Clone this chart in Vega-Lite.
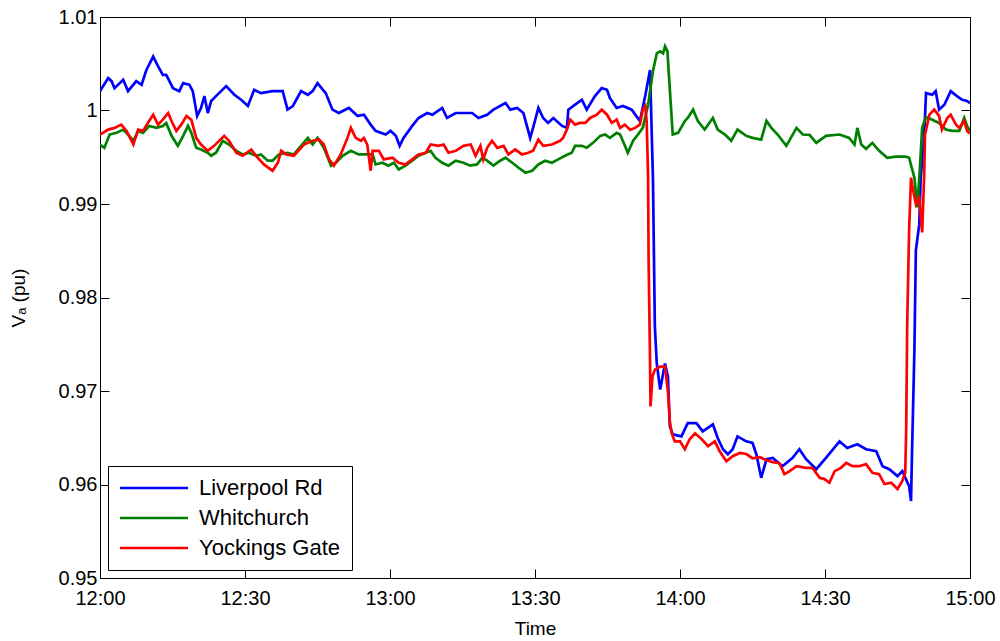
{
  "$schema": "https://vega.github.io/schema/vega-lite/v6.json",
  "width": 870,
  "height": 561,
  "autosize": "none",
  "padding": {"left": 100, "top": 17, "right": 30, "bottom": 63},
  "background": "white",
  "config": {
    "font": "Liberation Sans",
    "view": {"stroke": "black", "strokeWidth": 1},
    "axis": {
      "grid": false,
      "domainColor": "black",
      "domainWidth": 1,
      "tickColor": "black",
      "tickWidth": 1,
      "labelColor": "black",
      "titleColor": "black",
      "labelFont": "Liberation Sans",
      "titleFont": "Liberation Sans",
      "labelFontSize": 20,
      "titleFontSize": 19,
      "titleFontWeight": "normal",
      "labelFlush": false,
      "labelOverlap": false,
      "labelBound": false
    }
  },
  "data": {
    "values": [
      {"s":"Liverpool Rd","t":0,"v":1.00207},{"s":"Liverpool Rd","t":1.7,"v":1.00346},{"s":"Liverpool Rd","t":2.4,"v":1.00314},{"s":"Liverpool Rd","t":3,"v":1.00239},{"s":"Liverpool Rd","t":4.8,"v":1.00328},{"s":"Liverpool Rd","t":5.8,"v":1.00207},{"s":"Liverpool Rd","t":7.5,"v":1.00314},{"s":"Liverpool Rd","t":8.6,"v":1.00275},{"s":"Liverpool Rd","t":9.6,"v":1.00434},{"s":"Liverpool Rd","t":11,"v":1.00577},{"s":"Liverpool Rd","t":12,"v":1.00474},{"s":"Liverpool Rd","t":13,"v":1.00381},{"s":"Liverpool Rd","t":13.7,"v":1.00381},{"s":"Liverpool Rd","t":15.1,"v":1.00239},{"s":"Liverpool Rd","t":16.4,"v":1.00207},{"s":"Liverpool Rd","t":17.2,"v":1.00293},{"s":"Liverpool Rd","t":18.5,"v":1.00275},{"s":"Liverpool Rd","t":19.2,"v":1.00207},{"s":"Liverpool Rd","t":20.1,"v":0.99942},{"s":"Liverpool Rd","t":20.9,"v":1.00027},{"s":"Liverpool Rd","t":21.6,"v":1.00154},{"s":"Liverpool Rd","t":22.3,"v":0.99973},{"s":"Liverpool Rd","t":23,"v":1.00101},{"s":"Liverpool Rd","t":24,"v":1.00154},{"s":"Liverpool Rd","t":26.1,"v":1.00261},{"s":"Liverpool Rd","t":27.8,"v":1.00168},{"s":"Liverpool Rd","t":29.2,"v":1.00115},{"s":"Liverpool Rd","t":30.6,"v":1.00048},{"s":"Liverpool Rd","t":31.9,"v":1.00221},{"s":"Liverpool Rd","t":33.3,"v":1.00186},{"s":"Liverpool Rd","t":35.7,"v":1.00207},{"s":"Liverpool Rd","t":37.8,"v":1.00207},{"s":"Liverpool Rd","t":38.8,"v":1.00009},{"s":"Liverpool Rd","t":39.9,"v":1.00048},{"s":"Liverpool Rd","t":41.6,"v":1.00207},{"s":"Liverpool Rd","t":43,"v":1.00168},{"s":"Liverpool Rd","t":44,"v":1.00207},{"s":"Liverpool Rd","t":45,"v":1.00293},{"s":"Liverpool Rd","t":46.7,"v":1.00186},{"s":"Liverpool Rd","t":48.1,"v":1.00009},{"s":"Liverpool Rd","t":49.4,"v":0.99973},{"s":"Liverpool Rd","t":51.5,"v":1.00027},{"s":"Liverpool Rd","t":53.3,"v":0.99942},{"s":"Liverpool Rd","t":54.6,"v":0.99955},{"s":"Liverpool Rd","t":56,"v":0.99849},{"s":"Liverpool Rd","t":57,"v":0.99782},{"s":"Liverpool Rd","t":59.1,"v":0.99743},{"s":"Liverpool Rd","t":60.1,"v":0.99782},{"s":"Liverpool Rd","t":61.2,"v":0.99729},{"s":"Liverpool Rd","t":62,"v":0.99622},{"s":"Liverpool Rd","t":62.8,"v":0.99707},{"s":"Liverpool Rd","t":64.6,"v":0.99835},{"s":"Liverpool Rd","t":65.9,"v":0.9992},{"s":"Liverpool Rd","t":67.7,"v":0.99973},{"s":"Liverpool Rd","t":68.8,"v":0.99955},{"s":"Liverpool Rd","t":70.8,"v":1.00027},{"s":"Liverpool Rd","t":71.8,"v":0.9992},{"s":"Liverpool Rd","t":73.6,"v":0.99973},{"s":"Liverpool Rd","t":74.6,"v":0.99973},{"s":"Liverpool Rd","t":77,"v":0.99973},{"s":"Liverpool Rd","t":78.3,"v":0.9992},{"s":"Liverpool Rd","t":80.1,"v":0.99955},{"s":"Liverpool Rd","t":81.4,"v":1.00009},{"s":"Liverpool Rd","t":83.9,"v":1.0008},{"s":"Liverpool Rd","t":84.9,"v":1.00009},{"s":"Liverpool Rd","t":86.3,"v":1.00027},{"s":"Liverpool Rd","t":87.6,"v":0.99973},{"s":"Liverpool Rd","t":89,"v":0.99707},{"s":"Liverpool Rd","t":89.6,"v":0.99814},{"s":"Liverpool Rd","t":90.7,"v":1.00027},{"s":"Liverpool Rd","t":91.7,"v":0.9992},{"s":"Liverpool Rd","t":92.7,"v":0.99867},{"s":"Liverpool Rd","t":93.8,"v":0.9992},{"s":"Liverpool Rd","t":95.6,"v":0.99835},{"s":"Liverpool Rd","t":96.6,"v":0.99814},{"s":"Liverpool Rd","t":96.9,"v":1.00009},{"s":"Liverpool Rd","t":98.3,"v":1.00062},{"s":"Liverpool Rd","t":99.7,"v":1.00115},{"s":"Liverpool Rd","t":100.7,"v":1.00009},{"s":"Liverpool Rd","t":102.4,"v":1.00154},{"s":"Liverpool Rd","t":103.8,"v":1.00239},{"s":"Liverpool Rd","t":104.9,"v":1.00221},{"s":"Liverpool Rd","t":105.5,"v":1.00133},{"s":"Liverpool Rd","t":106.9,"v":1.00027},{"s":"Liverpool Rd","t":108.2,"v":1.00048},{"s":"Liverpool Rd","t":110,"v":1.00009},{"s":"Liverpool Rd","t":111.7,"v":0.99888},{"s":"Liverpool Rd","t":112.8,"v":1.00154},{"s":"Liverpool Rd","t":113.8,"v":1.00434},{"s":"Liverpool Rd","t":114.4,"v":0.99282},{"s":"Liverpool Rd","t":114.8,"v":0.97686},{"s":"Liverpool Rd","t":115.2,"v":0.97292},{"s":"Liverpool Rd","t":115.9,"v":0.97016},{"s":"Liverpool Rd","t":116.9,"v":0.97295},{"s":"Liverpool Rd","t":117.5,"v":0.97154},{"s":"Liverpool Rd","t":117.9,"v":0.96622},{"s":"Liverpool Rd","t":118.5,"v":0.96537},{"s":"Liverpool Rd","t":120.3,"v":0.96515},{"s":"Liverpool Rd","t":121.6,"v":0.96657},{"s":"Liverpool Rd","t":123.4,"v":0.96657},{"s":"Liverpool Rd","t":124.7,"v":0.96569},{"s":"Liverpool Rd","t":126.8,"v":0.96643},{"s":"Liverpool Rd","t":127.8,"v":0.96497},{"s":"Liverpool Rd","t":128.9,"v":0.96377},{"s":"Liverpool Rd","t":129.9,"v":0.96324},{"s":"Liverpool Rd","t":130.9,"v":0.96377},{"s":"Liverpool Rd","t":131.9,"v":0.96515},{"s":"Liverpool Rd","t":133.7,"v":0.96462},{"s":"Liverpool Rd","t":135,"v":0.96444},{"s":"Liverpool Rd","t":135.8,"v":0.96324},{"s":"Liverpool Rd","t":136.8,"v":0.96072},{"s":"Liverpool Rd","t":137.9,"v":0.96271},{"s":"Liverpool Rd","t":139.2,"v":0.96285},{"s":"Liverpool Rd","t":141.2,"v":0.96196},{"s":"Liverpool Rd","t":143.3,"v":0.96285},{"s":"Liverpool Rd","t":144.7,"v":0.96377},{"s":"Liverpool Rd","t":146.1,"v":0.96271},{"s":"Liverpool Rd","t":148.2,"v":0.96164},{"s":"Liverpool Rd","t":150.2,"v":0.96285},{"s":"Liverpool Rd","t":153,"v":0.96462},{"s":"Liverpool Rd","t":154.6,"v":0.96391},{"s":"Liverpool Rd","t":156.7,"v":0.9643},{"s":"Liverpool Rd","t":158.5,"v":0.96377},{"s":"Liverpool Rd","t":160.6,"v":0.96356},{"s":"Liverpool Rd","t":161.9,"v":0.96196},{"s":"Liverpool Rd","t":163.3,"v":0.96164},{"s":"Liverpool Rd","t":165,"v":0.9609},{"s":"Liverpool Rd","t":166,"v":0.96143},{"s":"Liverpool Rd","t":167.4,"v":0.95983},{"s":"Liverpool Rd","t":167.8,"v":0.95824},{"s":"Liverpool Rd","t":168,"v":0.96335},{"s":"Liverpool Rd","t":168.5,"v":0.97441},{"s":"Liverpool Rd","t":168.8,"v":0.98505},{"s":"Liverpool Rd","t":169.5,"v":0.98782},{"s":"Liverpool Rd","t":169.8,"v":0.99282},{"s":"Liverpool Rd","t":170.5,"v":0.99707},{"s":"Liverpool Rd","t":170.9,"v":1.00186},{"s":"Liverpool Rd","t":172.2,"v":1.00168},{"s":"Liverpool Rd","t":172.9,"v":1.00207},{"s":"Liverpool Rd","t":173.6,"v":1.00009},{"s":"Liverpool Rd","t":174.7,"v":1.00062},{"s":"Liverpool Rd","t":176,"v":1.00207},{"s":"Liverpool Rd","t":177.3,"v":1.00154},{"s":"Liverpool Rd","t":178.4,"v":1.00115},{"s":"Liverpool Rd","t":179.4,"v":1.00101},{"s":"Liverpool Rd","t":180,"v":1.0008},
      {"s":"Whitchurch","t":0,"v":0.99636},{"s":"Whitchurch","t":0.9,"v":0.99601},{"s":"Whitchurch","t":2,"v":0.99743},{"s":"Whitchurch","t":3.4,"v":0.99761},{"s":"Whitchurch","t":4.8,"v":0.99796},{"s":"Whitchurch","t":5.8,"v":0.99743},{"s":"Whitchurch","t":6.9,"v":0.99676},{"s":"Whitchurch","t":7.9,"v":0.99782},{"s":"Whitchurch","t":8.9,"v":0.99761},{"s":"Whitchurch","t":10.2,"v":0.99835},{"s":"Whitchurch","t":11.7,"v":0.99814},{"s":"Whitchurch","t":13,"v":0.99835},{"s":"Whitchurch","t":13.7,"v":0.99867},{"s":"Whitchurch","t":14.8,"v":0.99729},{"s":"Whitchurch","t":16.1,"v":0.99622},{"s":"Whitchurch","t":17.2,"v":0.99729},{"s":"Whitchurch","t":18.2,"v":0.99835},{"s":"Whitchurch","t":18.9,"v":0.99761},{"s":"Whitchurch","t":19.9,"v":0.99601},{"s":"Whitchurch","t":20.9,"v":0.99583},{"s":"Whitchurch","t":22.3,"v":0.99548},{"s":"Whitchurch","t":23,"v":0.99516},{"s":"Whitchurch","t":24,"v":0.99548},{"s":"Whitchurch","t":25.4,"v":0.99676},{"s":"Whitchurch","t":26.7,"v":0.99636},{"s":"Whitchurch","t":28.2,"v":0.99569},{"s":"Whitchurch","t":29.5,"v":0.9953},{"s":"Whitchurch","t":30.8,"v":0.99548},{"s":"Whitchurch","t":32.3,"v":0.99516},{"s":"Whitchurch","t":33.3,"v":0.9953},{"s":"Whitchurch","t":34.7,"v":0.99463},{"s":"Whitchurch","t":35.7,"v":0.99463},{"s":"Whitchurch","t":37,"v":0.9953},{"s":"Whitchurch","t":38.8,"v":0.99548},{"s":"Whitchurch","t":40.1,"v":0.9953},{"s":"Whitchurch","t":41.6,"v":0.99622},{"s":"Whitchurch","t":43,"v":0.99707},{"s":"Whitchurch","t":44,"v":0.99636},{"s":"Whitchurch","t":45,"v":0.99707},{"s":"Whitchurch","t":46.3,"v":0.99601},{"s":"Whitchurch","t":47.8,"v":0.9941},{"s":"Whitchurch","t":48.8,"v":0.99441},{"s":"Whitchurch","t":50.2,"v":0.99516},{"s":"Whitchurch","t":51.9,"v":0.99569},{"s":"Whitchurch","t":53.5,"v":0.9953},{"s":"Whitchurch","t":55,"v":0.9953},{"s":"Whitchurch","t":56.4,"v":0.9953},{"s":"Whitchurch","t":57,"v":0.99423},{"s":"Whitchurch","t":58.4,"v":0.99441},{"s":"Whitchurch","t":59.7,"v":0.9941},{"s":"Whitchurch","t":60.8,"v":0.99441},{"s":"Whitchurch","t":61.8,"v":0.9937},{"s":"Whitchurch","t":63.2,"v":0.9941},{"s":"Whitchurch","t":64.6,"v":0.99463},{"s":"Whitchurch","t":65.9,"v":0.99516},{"s":"Whitchurch","t":67.4,"v":0.99548},{"s":"Whitchurch","t":68.4,"v":0.99569},{"s":"Whitchurch","t":69.4,"v":0.99495},{"s":"Whitchurch","t":70.8,"v":0.99441},{"s":"Whitchurch","t":72.1,"v":0.9941},{"s":"Whitchurch","t":73.6,"v":0.99463},{"s":"Whitchurch","t":75.2,"v":0.99441},{"s":"Whitchurch","t":76.6,"v":0.9941},{"s":"Whitchurch","t":78,"v":0.99423},{"s":"Whitchurch","t":79.1,"v":0.99495},{"s":"Whitchurch","t":80.1,"v":0.99463},{"s":"Whitchurch","t":81.4,"v":0.9941},{"s":"Whitchurch","t":82.8,"v":0.99463},{"s":"Whitchurch","t":83.9,"v":0.99495},{"s":"Whitchurch","t":85.3,"v":0.99441},{"s":"Whitchurch","t":86.6,"v":0.99388},{"s":"Whitchurch","t":88,"v":0.99335},{"s":"Whitchurch","t":89.4,"v":0.99356},{"s":"Whitchurch","t":90.7,"v":0.99423},{"s":"Whitchurch","t":92.1,"v":0.99463},{"s":"Whitchurch","t":93.5,"v":0.99441},{"s":"Whitchurch","t":94.8,"v":0.99477},{"s":"Whitchurch","t":96.2,"v":0.99516},{"s":"Whitchurch","t":97.6,"v":0.99548},{"s":"Whitchurch","t":98.3,"v":0.99622},{"s":"Whitchurch","t":99.7,"v":0.99622},{"s":"Whitchurch","t":100.7,"v":0.99601},{"s":"Whitchurch","t":102,"v":0.99654},{"s":"Whitchurch","t":103.5,"v":0.99729},{"s":"Whitchurch","t":104.5,"v":0.99743},{"s":"Whitchurch","t":105.5,"v":0.99707},{"s":"Whitchurch","t":106.9,"v":0.99761},{"s":"Whitchurch","t":107.6,"v":0.99743},{"s":"Whitchurch","t":108.6,"v":0.99622},{"s":"Whitchurch","t":109.2,"v":0.99548},{"s":"Whitchurch","t":110.3,"v":0.99676},{"s":"Whitchurch","t":111.3,"v":0.99743},{"s":"Whitchurch","t":112.3,"v":0.99814},{"s":"Whitchurch","t":113.4,"v":1.00062},{"s":"Whitchurch","t":114.4,"v":1.0042},{"s":"Whitchurch","t":115.2,"v":1.00612},{"s":"Whitchurch","t":115.9,"v":1.00633},{"s":"Whitchurch","t":116.5,"v":1.00612},{"s":"Whitchurch","t":116.9,"v":1.00686},{"s":"Whitchurch","t":117.4,"v":1.00633},{"s":"Whitchurch","t":117.7,"v":1.00381},{"s":"Whitchurch","t":118.1,"v":1.00062},{"s":"Whitchurch","t":118.5,"v":0.99743},{"s":"Whitchurch","t":119.6,"v":0.99761},{"s":"Whitchurch","t":121,"v":0.99888},{"s":"Whitchurch","t":121.6,"v":0.9992},{"s":"Whitchurch","t":122.7,"v":1.00009},{"s":"Whitchurch","t":123.7,"v":0.99888},{"s":"Whitchurch","t":125.1,"v":0.99796},{"s":"Whitchurch","t":126.8,"v":0.9992},{"s":"Whitchurch","t":127.8,"v":0.99796},{"s":"Whitchurch","t":129.3,"v":0.99743},{"s":"Whitchurch","t":130.6,"v":0.99676},{"s":"Whitchurch","t":131.9,"v":0.99796},{"s":"Whitchurch","t":133.7,"v":0.99729},{"s":"Whitchurch","t":135,"v":0.99707},{"s":"Whitchurch","t":136.8,"v":0.99689},{"s":"Whitchurch","t":137.9,"v":0.99888},{"s":"Whitchurch","t":138.9,"v":0.99814},{"s":"Whitchurch","t":140.2,"v":0.99743},{"s":"Whitchurch","t":142,"v":0.99622},{"s":"Whitchurch","t":144.1,"v":0.99814},{"s":"Whitchurch","t":145.4,"v":0.99743},{"s":"Whitchurch","t":146.8,"v":0.99739},{"s":"Whitchurch","t":148.2,"v":0.99654},{"s":"Whitchurch","t":150.2,"v":0.99729},{"s":"Whitchurch","t":153,"v":0.99743},{"s":"Whitchurch","t":155,"v":0.99707},{"s":"Whitchurch","t":156.1,"v":0.99636},{"s":"Whitchurch","t":156.7,"v":0.99814},{"s":"Whitchurch","t":157.5,"v":0.99636},{"s":"Whitchurch","t":158.5,"v":0.9959},{"s":"Whitchurch","t":159.8,"v":0.99654},{"s":"Whitchurch","t":161.2,"v":0.99569},{"s":"Whitchurch","t":162.9,"v":0.99495},{"s":"Whitchurch","t":164.7,"v":0.99506},{"s":"Whitchurch","t":166.7,"v":0.99506},{"s":"Whitchurch","t":167.4,"v":0.99495},{"s":"Whitchurch","t":168.5,"v":0.99282},{"s":"Whitchurch","t":169.1,"v":0.98963},{"s":"Whitchurch","t":169.6,"v":0.99356},{"s":"Whitchurch","t":170.1,"v":0.99814},{"s":"Whitchurch","t":170.9,"v":0.99931},{"s":"Whitchurch","t":172.2,"v":0.99902},{"s":"Whitchurch","t":173.6,"v":0.99867},{"s":"Whitchurch","t":175,"v":0.99796},{"s":"Whitchurch","t":176.3,"v":0.99782},{"s":"Whitchurch","t":177.8,"v":0.99782},{"s":"Whitchurch","t":178.8,"v":0.9992},{"s":"Whitchurch","t":179.4,"v":0.99835},{"s":"Whitchurch","t":180,"v":0.99782},
      {"s":"Yockings Gate","t":0,"v":0.99743},{"s":"Yockings Gate","t":1.7,"v":0.99796},{"s":"Yockings Gate","t":3,"v":0.99814},{"s":"Yockings Gate","t":4.4,"v":0.99849},{"s":"Yockings Gate","t":5.5,"v":0.99782},{"s":"Yockings Gate","t":6.9,"v":0.99636},{"s":"Yockings Gate","t":7.9,"v":0.99796},{"s":"Yockings Gate","t":8.9,"v":0.99782},{"s":"Yockings Gate","t":9.9,"v":0.99867},{"s":"Yockings Gate","t":11,"v":0.99955},{"s":"Yockings Gate","t":12,"v":0.99849},{"s":"Yockings Gate","t":13,"v":0.99902},{"s":"Yockings Gate","t":14.1,"v":0.99973},{"s":"Yockings Gate","t":14.8,"v":0.99888},{"s":"Yockings Gate","t":15.8,"v":0.99782},{"s":"Yockings Gate","t":16.8,"v":0.99849},{"s":"Yockings Gate","t":17.9,"v":0.99942},{"s":"Yockings Gate","t":18.9,"v":0.99902},{"s":"Yockings Gate","t":19.9,"v":0.99707},{"s":"Yockings Gate","t":20.9,"v":0.99636},{"s":"Yockings Gate","t":22.3,"v":0.99569},{"s":"Yockings Gate","t":23.6,"v":0.99622},{"s":"Yockings Gate","t":25.7,"v":0.99729},{"s":"Yockings Gate","t":26.7,"v":0.99676},{"s":"Yockings Gate","t":28.2,"v":0.99548},{"s":"Yockings Gate","t":29.5,"v":0.99516},{"s":"Yockings Gate","t":31.3,"v":0.99583},{"s":"Yockings Gate","t":32.6,"v":0.99495},{"s":"Yockings Gate","t":33.9,"v":0.99423},{"s":"Yockings Gate","t":35.7,"v":0.99356},{"s":"Yockings Gate","t":36.8,"v":0.99441},{"s":"Yockings Gate","t":37.5,"v":0.99569},{"s":"Yockings Gate","t":38.5,"v":0.9953},{"s":"Yockings Gate","t":40.1,"v":0.99516},{"s":"Yockings Gate","t":42.2,"v":0.99636},{"s":"Yockings Gate","t":44,"v":0.99676},{"s":"Yockings Gate","t":45.3,"v":0.99689},{"s":"Yockings Gate","t":46.3,"v":0.99636},{"s":"Yockings Gate","t":47.4,"v":0.99477},{"s":"Yockings Gate","t":48.4,"v":0.9941},{"s":"Yockings Gate","t":49.8,"v":0.9953},{"s":"Yockings Gate","t":51.2,"v":0.99707},{"s":"Yockings Gate","t":51.9,"v":0.99814},{"s":"Yockings Gate","t":52.9,"v":0.99707},{"s":"Yockings Gate","t":54,"v":0.99676},{"s":"Yockings Gate","t":54.6,"v":0.99707},{"s":"Yockings Gate","t":55.3,"v":0.99636},{"s":"Yockings Gate","t":56,"v":0.99356},{"s":"Yockings Gate","t":56.4,"v":0.99569},{"s":"Yockings Gate","t":57.7,"v":0.99569},{"s":"Yockings Gate","t":58.7,"v":0.99477},{"s":"Yockings Gate","t":60.5,"v":0.99495},{"s":"Yockings Gate","t":61.8,"v":0.99441},{"s":"Yockings Gate","t":63.2,"v":0.99423},{"s":"Yockings Gate","t":64.6,"v":0.99477},{"s":"Yockings Gate","t":65.9,"v":0.9953},{"s":"Yockings Gate","t":67.4,"v":0.99548},{"s":"Yockings Gate","t":68.4,"v":0.99636},{"s":"Yockings Gate","t":70,"v":0.99622},{"s":"Yockings Gate","t":71.1,"v":0.99636},{"s":"Yockings Gate","t":72.1,"v":0.99548},{"s":"Yockings Gate","t":73.6,"v":0.99569},{"s":"Yockings Gate","t":75.2,"v":0.99622},{"s":"Yockings Gate","t":76.7,"v":0.99636},{"s":"Yockings Gate","t":77.7,"v":0.99516},{"s":"Yockings Gate","t":78.7,"v":0.99622},{"s":"Yockings Gate","t":79.3,"v":0.99477},{"s":"Yockings Gate","t":80.1,"v":0.99601},{"s":"Yockings Gate","t":81.1,"v":0.99676},{"s":"Yockings Gate","t":82.2,"v":0.99601},{"s":"Yockings Gate","t":83.5,"v":0.99622},{"s":"Yockings Gate","t":84.5,"v":0.9953},{"s":"Yockings Gate","t":85.9,"v":0.99583},{"s":"Yockings Gate","t":87.3,"v":0.9953},{"s":"Yockings Gate","t":88.6,"v":0.99548},{"s":"Yockings Gate","t":89.6,"v":0.99569},{"s":"Yockings Gate","t":90.7,"v":0.99689},{"s":"Yockings Gate","t":91.7,"v":0.99622},{"s":"Yockings Gate","t":93.5,"v":0.99636},{"s":"Yockings Gate","t":95.2,"v":0.99676},{"s":"Yockings Gate","t":95.8,"v":0.99707},{"s":"Yockings Gate","t":96.6,"v":0.99796},{"s":"Yockings Gate","t":97.3,"v":0.99902},{"s":"Yockings Gate","t":98.3,"v":0.99849},{"s":"Yockings Gate","t":99.3,"v":0.99867},{"s":"Yockings Gate","t":100.4,"v":0.99867},{"s":"Yockings Gate","t":101.4,"v":0.9992},{"s":"Yockings Gate","t":102.8,"v":0.99955},{"s":"Yockings Gate","t":103.8,"v":1.00009},{"s":"Yockings Gate","t":104.9,"v":0.99955},{"s":"Yockings Gate","t":105.9,"v":0.99867},{"s":"Yockings Gate","t":106.9,"v":0.99902},{"s":"Yockings Gate","t":107.6,"v":0.99814},{"s":"Yockings Gate","t":108.6,"v":0.99849},{"s":"Yockings Gate","t":109.7,"v":0.99793},{"s":"Yockings Gate","t":110.7,"v":0.99814},{"s":"Yockings Gate","t":111.7,"v":0.99849},{"s":"Yockings Gate","t":112.3,"v":1.00009},{"s":"Yockings Gate","t":112.8,"v":1.00048},{"s":"Yockings Gate","t":113.1,"v":0.99888},{"s":"Yockings Gate","t":113.4,"v":0.99282},{"s":"Yockings Gate","t":113.5,"v":0.98431},{"s":"Yockings Gate","t":113.8,"v":0.97335},{"s":"Yockings Gate","t":113.9,"v":0.96835},{"s":"Yockings Gate","t":114.3,"v":0.97154},{"s":"Yockings Gate","t":114.8,"v":0.97228},{"s":"Yockings Gate","t":115.9,"v":0.9726},{"s":"Yockings Gate","t":116.9,"v":0.9726},{"s":"Yockings Gate","t":117.5,"v":0.96994},{"s":"Yockings Gate","t":117.9,"v":0.96675},{"s":"Yockings Gate","t":118.3,"v":0.96547},{"s":"Yockings Gate","t":118.9,"v":0.96462},{"s":"Yockings Gate","t":120,"v":0.96462},{"s":"Yockings Gate","t":121,"v":0.96377},{"s":"Yockings Gate","t":122,"v":0.96484},{"s":"Yockings Gate","t":123.1,"v":0.96547},{"s":"Yockings Gate","t":124.5,"v":0.96484},{"s":"Yockings Gate","t":125.8,"v":0.96409},{"s":"Yockings Gate","t":127.2,"v":0.96462},{"s":"Yockings Gate","t":128.2,"v":0.96356},{"s":"Yockings Gate","t":129.6,"v":0.96249},{"s":"Yockings Gate","t":130.9,"v":0.96303},{"s":"Yockings Gate","t":132.4,"v":0.96338},{"s":"Yockings Gate","t":133.7,"v":0.96326},{"s":"Yockings Gate","t":135,"v":0.96281},{"s":"Yockings Gate","t":136.5,"v":0.96292},{"s":"Yockings Gate","t":137.9,"v":0.9626},{"s":"Yockings Gate","t":139.2,"v":0.96239},{"s":"Yockings Gate","t":140.6,"v":0.96228},{"s":"Yockings Gate","t":141.6,"v":0.96111},{"s":"Yockings Gate","t":142.7,"v":0.96143},{"s":"Yockings Gate","t":144.1,"v":0.96196},{"s":"Yockings Gate","t":146.1,"v":0.96178},{"s":"Yockings Gate","t":147.4,"v":0.96178},{"s":"Yockings Gate","t":148.9,"v":0.96072},{"s":"Yockings Gate","t":149.9,"v":0.96058},{"s":"Yockings Gate","t":150.9,"v":0.96019},{"s":"Yockings Gate","t":152,"v":0.96143},{"s":"Yockings Gate","t":153.3,"v":0.96178},{"s":"Yockings Gate","t":154.4,"v":0.96231},{"s":"Yockings Gate","t":155.7,"v":0.96196},{"s":"Yockings Gate","t":157.1,"v":0.96196},{"s":"Yockings Gate","t":158.5,"v":0.96218},{"s":"Yockings Gate","t":159.8,"v":0.96125},{"s":"Yockings Gate","t":161.2,"v":0.96111},{"s":"Yockings Gate","t":162.3,"v":0.96005},{"s":"Yockings Gate","t":163.7,"v":0.96019},{"s":"Yockings Gate","t":165,"v":0.95952},{"s":"Yockings Gate","t":166,"v":0.96037},{"s":"Yockings Gate","t":166.6,"v":0.96125},{"s":"Yockings Gate","t":166.8,"v":0.9659},{"s":"Yockings Gate","t":167,"v":0.97686},{"s":"Yockings Gate","t":167.4,"v":0.98718},{"s":"Yockings Gate","t":167.8,"v":0.99282},{"s":"Yockings Gate","t":168,"v":0.99211},{"s":"Yockings Gate","t":168.8,"v":0.98998},{"s":"Yockings Gate","t":169.5,"v":0.99069},{"s":"Yockings Gate","t":170.1,"v":0.98697},{"s":"Yockings Gate","t":170.5,"v":0.99282},{"s":"Yockings Gate","t":170.7,"v":0.99743},{"s":"Yockings Gate","t":171.6,"v":0.99955},{"s":"Yockings Gate","t":172.6,"v":1.00009},{"s":"Yockings Gate","t":173.6,"v":0.99942},{"s":"Yockings Gate","t":174.2,"v":0.99796},{"s":"Yockings Gate","t":175.3,"v":0.9992},{"s":"Yockings Gate","t":176,"v":0.99955},{"s":"Yockings Gate","t":177.1,"v":0.99849},{"s":"Yockings Gate","t":177.8,"v":0.99814},{"s":"Yockings Gate","t":178.8,"v":0.99888},{"s":"Yockings Gate","t":179.4,"v":0.99782},{"s":"Yockings Gate","t":180,"v":0.99754}
    ]
  },
  "layer": [
    {
      "mark": {"type": "line", "strokeWidth": 2.7, "clip": true},
      "encoding": {
        "x": {
          "field": "t", "type": "quantitative",
          "scale": {"domain": [0, 180], "nice": false, "zero": false},
          "axis": {
            "orient": "bottom",
            "values": [0, 30, 60, 90, 120, 150, 180],
            "labelExpr": "(12 + floor(datum.value / 60)) + ':' + (datum.value % 60 == 0 ? '00' : '30')",
            "tickSize": -9,
            "labelPadding": 19,
            "title": "Time",
            "titlePadding": 11
          }
        },
        "y": {
          "field": "v", "type": "quantitative",
          "scale": {"domain": [0.95, 1.01], "nice": false, "zero": false},
          "axis": {
            "orient": "left",
            "values": [0.95, 0.96, 0.97, 0.98, 0.99, 1.0, 1.01],
            "format": ".2~f",
            "tickSize": -9,
            "labelPadding": 12,
            "title": "Vₐ (pu)",
            "titlePadding": 30
          }
        },
        "color": {
          "field": "s", "type": "nominal",
          "scale": {"domain": ["Liverpool Rd", "Whitchurch", "Yockings Gate"], "range": ["#0000ff", "#008000", "#ff0000"]},
          "legend": {
            "title": null,
            "orient": "bottom-left",
            "offset": 8,
            "symbolType": "M-4,0H4",
            "symbolSize": 289,
            "symbolStrokeWidth": 2.7,
            "symbolOffset": 24,
            "labelOffset": 34,
            "labelFontSize": 22,
            "labelFont": "Liberation Sans",
            "labelColor": "black",
            "strokeColor": "black",
            "fillColor": "white",
            "padding": 11,
            "rowPadding": 8
          }
        }
      }
    },
    {
      "mark": {"type": "point", "opacity": 0},
      "encoding": {
        "x": {
          "field": "t", "type": "quantitative",
          "axis": {"orient": "top", "values": [0, 30, 60, 90, 120, 150, 180], "labels": false, "tickSize": -9, "title": null}
        },
        "y": {
          "field": "v", "type": "quantitative",
          "axis": {"orient": "right", "values": [0.95, 0.96, 0.97, 0.98, 0.99, 1.0, 1.01], "labels": false, "tickSize": -9, "title": null}
        }
      }
    }
  ],
  "resolve": {"axis": {"x": "independent", "y": "independent"}}
}
